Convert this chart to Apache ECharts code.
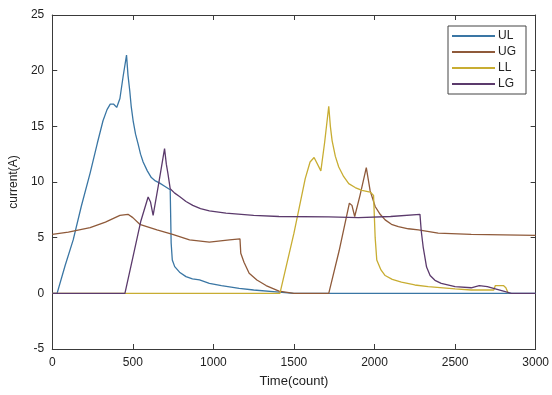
<!DOCTYPE html>
<html>
<head>
<meta charset="utf-8">
<script src="https://cdn.jsdelivr.net/npm/echarts@6/dist/echarts.min.js"></script>
<style>
  html, body { margin: 0; padding: 0; background: #fff; }
  #chart { width: 552px; height: 395px; }
</style>
</head>
<body>
<div id="chart"></div>
<script>
// series names, in legend order
const seriesNames = ['UL', 'UG', 'LL', 'LG'];

// UL
const ulTime = [0, 30, 80, 130, 180, 235, 280, 315, 340, 360, 380, 400, 420, 440, 461, 470, 481, 490, 502, 517, 533, 548, 564, 590, 615, 640, 667, 700, 732, 738, 745, 760, 790, 830, 870, 914, 975, 1050, 1160, 1250, 1407, 1500, 2000, 2500, 3000];
const ulCurrent = [0, 0, 2.5, 4.8, 7.8, 10.8, 13.5, 15.5, 16.5, 17.0, 17.0, 16.7, 17.5, 19.5, 21.4, 19.6, 18.2, 16.8, 15.5, 14.3, 13.4, 12.5, 11.8, 11.0, 10.4, 10.1, 9.9, 9.6, 9.3, 4.5, 3.0, 2.4, 1.9, 1.5, 1.3, 1.2, 0.9, 0.7, 0.45, 0.3, 0.1, 0, 0, 0, 0];

// UG
const ugTime = [0, 100, 235, 330, 420, 470, 500, 543, 650, 747, 852, 975, 1100, 1165, 1170, 1190, 1222, 1270, 1327, 1407, 1500, 1716, 1780, 1844, 1860, 1877, 1910, 1949, 1973, 2004, 2035, 2066, 2105, 2148, 2210, 2272, 2395, 2600, 3000];
const ugCurrent = [5.3, 5.5, 5.9, 6.4, 7.0, 7.1, 6.8, 6.2, 5.7, 5.3, 4.8, 4.6, 4.8, 4.9, 3.6, 2.8, 1.8, 1.2, 0.7, 0.2, 0, 0, 3.8, 8.1, 7.9, 6.9, 8.8, 11.3, 9.2, 7.8, 7.1, 6.6, 6.2, 6.0, 5.8, 5.7, 5.4, 5.3, 5.2];

// LL
const llTime = [0, 1413, 1500, 1570, 1600, 1625, 1667, 1690, 1716, 1726, 1737, 1757, 1778, 1808, 1840, 1880, 1922, 1973, 1994, 2004, 2014, 2040, 2066, 2110, 2167, 2250, 2333, 2500, 2600, 2740, 2750, 2800, 2815, 2830];
const llCurrent = [0, 0, 5.4, 10.3, 11.8, 12.2, 11.0, 13.5, 16.8, 15.0, 13.7, 12.3, 11.35, 10.5, 9.85, 9.5, 9.25, 9.1, 8.8, 5.0, 3.0, 2.1, 1.6, 1.25, 1.0, 0.75, 0.6, 0.4, 0.3, 0.3, 0.7, 0.7, 0.5, 0];

// LG
const lgTime = [0, 451, 500, 550, 595, 610, 626, 660, 697, 708, 718, 732, 760, 790, 830, 872, 920, 975, 1078, 1250, 1407, 1716, 1901, 2100, 2282, 2290, 2302, 2323, 2345, 2375, 2414, 2500, 2600, 2650, 2700, 2750, 2850, 3000];
const lgCurrent = [0, 0, 3.2, 6.5, 8.65, 8.2, 7.0, 9.8, 13.0, 11.6, 10.75, 9.4, 9.0, 8.7, 8.25, 7.9, 7.6, 7.4, 7.2, 7.0, 6.9, 6.86, 6.8, 6.9, 7.1, 5.6, 4.16, 2.36, 1.6, 1.17, 0.9, 0.6, 0.5, 0.7, 0.6, 0.4, 0, 0];

const colors = ['#3a76a4', '#8f5a3a', '#c8ad32', '#5b3a6c'];

const zip = (xs, ys) => xs.map((x, i) => [x, ys[i]]);
const allData = [zip(ulTime, ulCurrent), zip(ugTime, ugCurrent), zip(llTime, llCurrent), zip(lgTime, lgCurrent)];

const font = 'Liberation Sans, Arial, sans-serif';
const boxAxis = {
  axisLine: { show: true, onZero: false, lineStyle: { color: '#3a3a3a', width: 1 } },
  axisTick: { show: true, inside: true, length: 5, lineStyle: { color: '#3a3a3a' } },
  splitLine: { show: false },
};

const chart = echarts.init(document.getElementById('chart'), null, { renderer: 'canvas' });

chart.setOption({
  animation: false,
  backgroundColor: '#fff',
  color: colors,
  grid: { left: 52, right: 15, top: 15, bottom: 46 },
  legend: {
    data: seriesNames,
    orient: 'vertical',
    left: 448,
    top: 26,
    width: 76,
    icon: 'rect',
    itemWidth: 43,
    itemHeight: 2,
    itemGap: 4,
    padding: [4, 10, 4, 4],
    backgroundColor: '#fff',
    borderColor: '#444',
    borderWidth: 1,
    textStyle: { fontFamily: font, fontSize: 12, color: '#222', padding: [0, 0, 0, -2] },
  },
  xAxis: [
    Object.assign({
      type: 'value', min: 0, max: 3000, interval: 500, position: 'bottom',
      name: 'Time(count)', nameLocation: 'middle', nameGap: 26,
      nameTextStyle: { fontFamily: font, fontSize: 13, color: '#222' },
      axisLabel: { fontFamily: font, fontSize: 12, color: '#222', margin: 8, formatter: (v) => String(v) },
    }, boxAxis),
    Object.assign({
      type: 'value', min: 0, max: 3000, interval: 500, position: 'top',
      axisLabel: { show: false },
    }, boxAxis),
  ],
  yAxis: [
    Object.assign({
      type: 'value', min: -5, max: 25, interval: 5, position: 'left',
      name: 'current(A)', nameLocation: 'middle', nameGap: 32,
      nameTextStyle: { fontFamily: font, fontSize: 12, color: '#222' },
      axisLabel: { fontFamily: font, fontSize: 12, color: '#222', margin: 8 },
    }, boxAxis),
    Object.assign({
      type: 'value', min: -5, max: 25, interval: 5, position: 'right',
      axisLabel: { show: false },
    }, boxAxis),
  ],
  series: seriesNames.map((name, i) => ({
    name: name,
    type: 'line',
    data: allData[i],
    xAxisIndex: 0,
    yAxisIndex: 0,
    symbol: 'none',
    smooth: false,
    lineStyle: { width: 1.3 },
  })),
});
</script>
</body>
</html>
